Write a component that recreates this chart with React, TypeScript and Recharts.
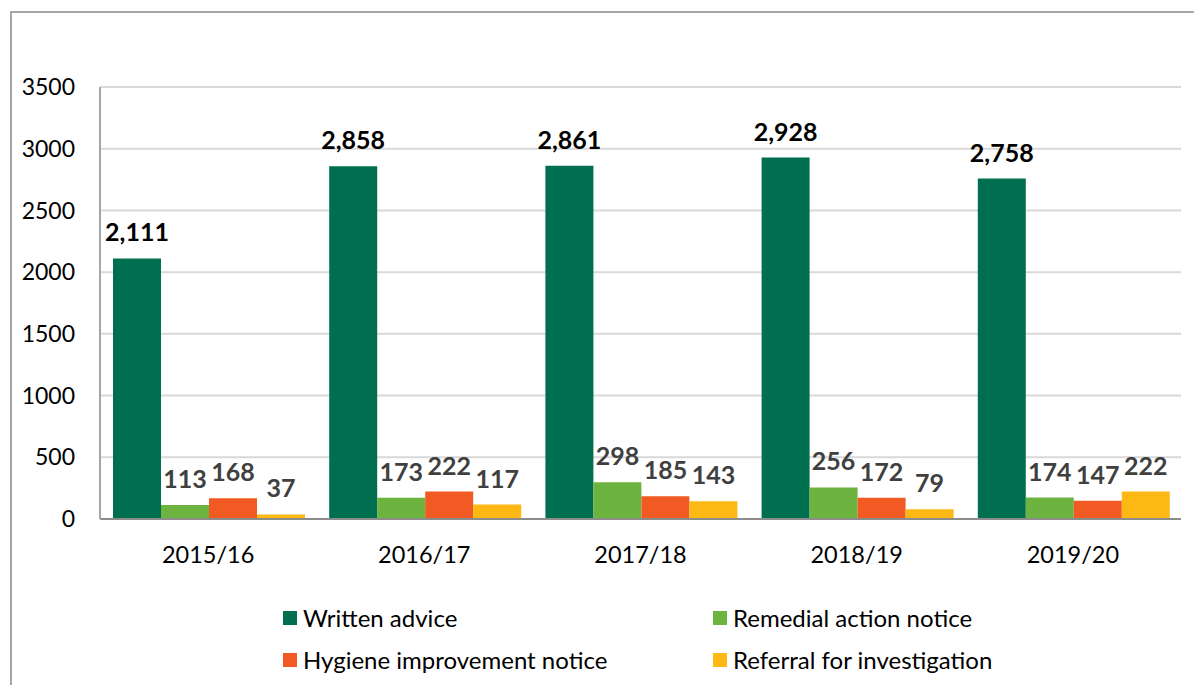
import React from "react";
import { BarChart, Bar, XAxis, YAxis, CartesianGrid, LabelList, Legend } from "recharts";

const categories = ["2015/16", "2016/17", "2017/18", "2018/19", "2019/20"];
const writtenAdvice = [2111, 2858, 2861, 2928, 2758];
const remedialAction = [113, 173, 298, 256, 174];
const hygieneImprovement = [168, 222, 185, 172, 147];
const referral = [37, 117, 143, 79, 222];
const yTicks = [0, 500, 1000, 1500, 2000, 2500, 3000, 3500];

const series = [
  { key: "written", name: "Written advice", color: "#006F4F", labelColor: "#000000" },
  { key: "remedial", name: "Remedial action notice", color: "#6DB33F", labelColor: "#404040" },
  { key: "hygiene", name: "Hygiene improvement notice", color: "#F15A22", labelColor: "#404040" },
  { key: "referral", name: "Referral for investigation", color: "#FDB813", labelColor: "#404040" },
];

const data = categories.map((c, i) => ({
  category: c,
  written: writtenAdvice[i],
  remedial: remedialAction[i],
  hygiene: hygieneImprovement[i],
  referral: referral[i],
}));

const FONT = "Lato, 'Noto Sans', sans-serif";

const fmt = (v: any) => Number(v).toLocaleString("en-US");

const LegendContent = () => {
  const pos = [
    { left: 283, top: 35 },
    { left: 713, top: 35 },
    { left: 283, top: 77 },
    { left: 713, top: 77 },
  ];
  return (
    <div style={{ position: "relative", width: 1194, height: 106 }}>
      {series.map((s, i) => (
        <div
          key={s.key}
          style={{
            position: "absolute",
            left: pos[i].left,
            top: pos[i].top,
            display: "flex",
            alignItems: "center",
            fontFamily: FONT,
            fontSize: 24,
            color: "#000",
            whiteSpace: "nowrap",
            lineHeight: "28px",
          }}
        >
          <span style={{ display: "inline-block", width: 14, height: 14, background: s.color, marginRight: 6 }} />
          <span>{s.name}</span>
        </div>
      ))}
    </div>
  );
};

export default function App() {
  return (
    <div style={{ position: "absolute", left: 0, top: 0, width: 1194, height: 685, overflow: "hidden", background: "#fff" }}>
      <div
        style={{
          position: "absolute",
          left: 10,
          top: 11,
          width: 1300,
          height: 800,
          borderTop: "2px solid #A6A6A6",
          borderLeft: "2px solid #A6A6A6",
        }}
      />
      <div style={{ position: "absolute", left: 0, top: 0 }}>
        <BarChart
          width={1194}
          height={685}
          data={data}
          margin={{ top: 87, right: 13, bottom: 10, left: 0 }}
          barCategoryGap={13}
          barGap={0}
        >
          <CartesianGrid vertical={false} stroke="#D9D9D9" strokeWidth={2} />
          <XAxis
            dataKey="category"
            height={50}
            tickLine={false}
            axisLine={{ stroke: "#8C8C8C", strokeWidth: 2 }}
            tick={{ fontFamily: FONT, fontSize: 23.5, fill: "#000" }}
            tickMargin={21}
          />
          <YAxis
            width={100}
            domain={[0, 3500]}
            ticks={yTicks}
            interval={0}
            tickLine={false}
            tickSize={0}
            tickMargin={25}
            axisLine={{ stroke: "#A6A6A6", strokeWidth: 2 }}
            tick={{ fontFamily: FONT, fontSize: 23, fill: "#000" }}
          />
          <Legend verticalAlign="bottom" height={106} content={<LegendContent />} />
          {series.map((s) => (
            <Bar key={s.key} dataKey={s.key} name={s.name} fill={s.color} isAnimationActive={false}>
              <LabelList
                dataKey={s.key}
                position="top"
                offset={17}
                formatter={fmt}
                style={{ fontFamily: FONT, fontSize: 25, fontWeight: 700, fill: s.labelColor }}
              />
            </Bar>
          ))}
        </BarChart>
      </div>
    </div>
  );
}
